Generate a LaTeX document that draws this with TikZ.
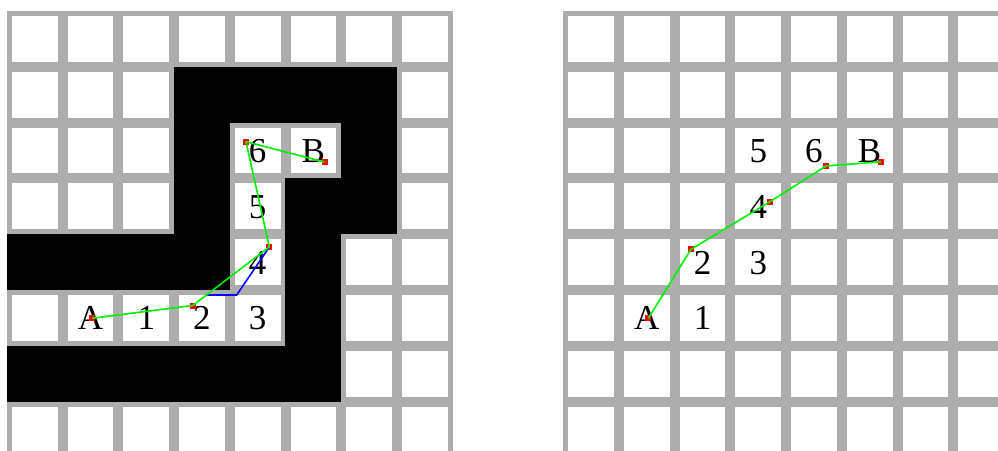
\documentclass[tikz,border=0pt]{standalone}
\usepackage{fontspec}
\setmainfont{Liberation Serif}
\definecolor{gridgray}{RGB}{173,173,173}
\definecolor{pathgreen}{RGB}{0,240,0}
\tikzset{
  cellwhite/.style={fill=white},
  cellblack/.style={fill=black},
  celllabel/.style={anchor=base, inner sep=0pt, font=\fontsize{35}{35}\selectfont},
  waypt/.style={rectangle, fill=red, inner sep=0pt, minimum size=6pt},
  greenpath/.style={draw=pathgreen, line width=1.6pt, line join=round},
  bluepath/.style={draw=blue, line width=1.6pt, line join=round},
}
\begin{document}
\begin{tikzpicture}[x=1pt, y=-1pt]
\useasboundingbox (0,0) rectangle (998,450);
\fill[white] (0,0) rectangle (998,450);
% ---------------- left grid ----------------
\begin{scope}[shift={(7,11)}, x=55.7pt, y=-55.8pt]
  \fill[gridgray] (0,0) rectangle (8,8);
  \foreach \i in {0,...,7} {
    \foreach \j in {0,...,7} {
      \fill[cellwhite] ([shift={(5pt,-5pt)}]\i,\j) rectangle ([shift={(-5pt,5pt)}]\i+1,\j+1);
    }
  }
  \foreach \i/\j in {3/1,4/1,5/1,6/1,3/2,6/2,3/3,5/3,6/3,0/4,1/4,2/4,3/4,5/4,5/5,0/6,1/6,2/6,3/6,4/6,5/6} {
    \fill[cellblack] (\i-0.005,\j-0.005) rectangle (\i+1.005,\j+1.005);
  }
  \node[celllabel] (LA) at ([yshift=-12pt]1.5,5.5) {A};
  \node[celllabel] (L1) at ([yshift=-12pt]2.5,5.5) {1};
  \node[celllabel] (L2) at ([yshift=-12pt]3.5,5.5) {2};
  \node[celllabel] (L3) at ([yshift=-12pt]4.5,5.5) {3};
  \node[celllabel] (L4) at ([yshift=-12pt]4.5,4.5) {4};
  \node[celllabel] (L5) at ([yshift=-12pt]4.5,3.5) {5};
  \node[celllabel] (L6) at ([yshift=-12pt]4.5,2.5) {6};
  \node[celllabel] (LB) at ([yshift=-12pt]5.5,2.5) {B};
\end{scope}
% ---------------- right grid ----------------
\begin{scope}[shift={(563.3,11)}, x=55.7pt, y=-55.8pt]
  \fill[gridgray] (0,0) rectangle (8,8);
  \foreach \i in {0,...,7} {
    \foreach \j in {0,...,7} {
      \fill[cellwhite] ([shift={(5pt,-5pt)}]\i,\j) rectangle ([shift={(-5pt,5pt)}]\i+1,\j+1);
    }
  }
  \node[celllabel] (RA) at ([yshift=-12pt]1.5,5.5) {A};
  \node[celllabel] (R1) at ([yshift=-12pt]2.5,5.5) {1};
  \node[celllabel] (R2) at ([yshift=-12pt]2.5,4.5) {2};
  \node[celllabel] (R3) at ([yshift=-12pt]3.5,4.5) {3};
  \node[celllabel] (R4) at ([yshift=-12pt]3.5,3.5) {4};
  \node[celllabel] (R5) at ([yshift=-12pt]3.5,2.5) {5};
  \node[celllabel] (R6) at ([yshift=-12pt]4.5,2.5) {6};
  \node[celllabel] (RB) at ([yshift=-12pt]5.5,2.5) {B};
\end{scope}
% ---------------- left path ----------------
\node[waypt] (lA) at (91.7,318.3) {};
\node[waypt] (l2) at (192.7,305.5) {};
\node[waypt] (l4) at (269.3,247) {};
\node[waypt] (l6) at (246,141.7) {};
\node[waypt] (lB) at (324.5,162) {};
\coordinate (lb1) at (206,295);
\coordinate (lb2) at (236.7,295);
\draw[bluepath] (lb1) -- (lb2) -- (l4.center);
\draw[greenpath] (lA.center) -- (l2.center) -- (l4.center) -- (l6.center) -- (lB.center);
% ---------------- right path ----------------
\node[waypt] (rA) at (648.3,318.3) {};
\node[waypt] (r2) at (691,249.3) {};
\node[waypt] (r4) at (770,201.7) {};
\node[waypt] (r6) at (826,166) {};
\node[waypt] (rB) at (881,161.7) {};
\draw[greenpath] (rA.center) -- (r2.center) -- (r4.center) -- (r6.center) -- (rB.center);
\end{tikzpicture}
\end{document}
